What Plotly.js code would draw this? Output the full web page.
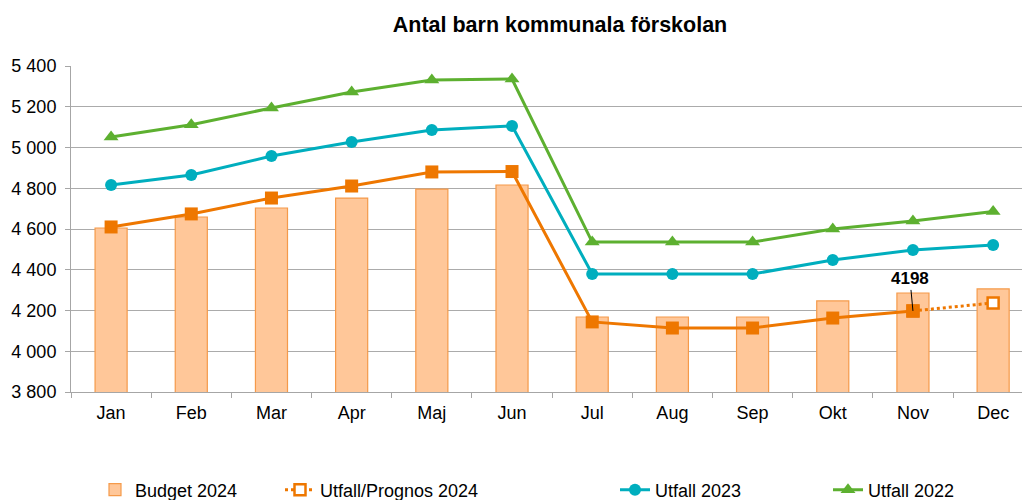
<!DOCTYPE html>
<html>
<head>
<meta charset="utf-8">
<script src="https://cdn.plot.ly/plotly-3.0.1.min.js"></script>
<style>html,body{margin:0;padding:0;background:#fff;}#chart{width:1022px;height:500px;}</style>
</head>
<body>
<div id="chart"></div>
<script>
const months = ['Jan','Feb','Mar','Apr','Maj','Jun','Jul','Aug','Sep','Okt','Nov','Dec'];
const budget2024 = [4605, 4659, 4703, 4752, 4796, 4816, 4168, 4168, 4168, 4247, 4286, 4306];
const utfall2024 = [4610, 4674, 4752, 4811, 4880, 4882, 4144, 4114, 4114, 4163, 4198];
const prognosMonths = ['Nov', 'Dec'];
const prognos2024 = [4198, 4237];
const utfall2023 = [4816, 4865, 4958, 5027, 5086, 5106, 4379, 4379, 4379, 4448, 4497, 4522];
const utfall2022 = [5052, 5112, 5194, 5272, 5331, 5336, 4536, 4536, 4536, 4600, 4639, 4686];

const orange = '#EE7700';
const teal = '#00AEBE';
const green = '#5DB030';
const font = 'Liberation Sans, Arial, sans-serif';

const traces = [
  {type: 'bar', x: months, y: budget2024, name: 'Budget 2024', width: 0.4,
   marker: {color: '#FFC799', line: {color: '#F59A4A', width: 1.2}}, legend: 'legend'},
  {type: 'scatter', mode: 'lines+markers', x: prognosMonths, y: prognos2024, name: 'Utfall/Prognos 2024',
   line: {color: orange, width: 3, dash: 'dot'},
   marker: {symbol: 'square', size: 11, color: '#FFFFFF', line: {color: orange, width: 2.5}}, legend: 'legend2'},
  {type: 'scatter', mode: 'lines+markers', x: months.slice(0, utfall2024.length), y: utfall2024, name: 'Utfall 2024',
   line: {color: orange, width: 3}, marker: {symbol: 'square', size: 13, color: orange}, showlegend: false},
  {type: 'scatter', mode: 'lines+markers', x: months, y: utfall2023, name: 'Utfall 2023',
   line: {color: teal, width: 3}, marker: {symbol: 'circle', size: 12, color: teal}, legend: 'legend3'},
  {type: 'scatter', mode: 'lines+markers', x: months, y: utfall2022, name: 'Utfall 2022',
   line: {color: green, width: 3}, marker: {symbol: 'triangle-up', size: 13, color: green}, legend: 'legend4'}
];

function leg(px) {
  return {orientation: 'h', xref: 'container', yref: 'container', x: px / 1022, y: 0.02,
          xanchor: 'left', yanchor: 'middle', bgcolor: 'rgba(0,0,0,0)',
          font: {family: font, size: 18, color: '#000'}};
}

const layout = {
  width: 1022, height: 500,
  margin: {l: 71, r: 0, t: 66, b: 108},
  paper_bgcolor: '#fff', plot_bgcolor: '#fff',
  separators: ', ',
  font: {family: font, size: 18, color: '#000'},
  title: {text: '<b>Antal barn kommunala förskolan</b>', x: 560 / 1022, xref: 'container', xanchor: 'center',
          y: 1 - 24 / 500, yref: 'container', yanchor: 'middle', font: {family: font, size: 21.5, color: '#000'}},
  xaxis: {type: 'category', categoryorder: 'array', categoryarray: months,
          range: [-0.5, 11.36], showgrid: false, showline: true, linecolor: '#A6A6A6', linewidth: 1,
          ticks: 'outside', tickson: 'boundaries', ticklen: 5, tickcolor: '#A6A6A6', ticklabelstandoff: 4,
          tickfont: {family: font, size: 18, color: '#000'}, fixedrange: true},
  yaxis: {range: [3800, 5400], dtick: 200, tick0: 3800, separatethousands: true, tickformat: ',d',
          showgrid: true, gridcolor: '#ABABAB', gridwidth: 1, showline: true, linecolor: '#A6A6A6', linewidth: 1,
          ticks: 'outside', ticklen: 5, tickcolor: '#A6A6A6', zeroline: false, ticklabelstandoff: 5,
          tickfont: {family: font, size: 18, color: '#000'}, fixedrange: true},
  bargap: 0.6,
  legend: leg(95), legend2: leg(280), legend3: leg(615), legend4: leg(828),
  annotations: [{x: 'Nov', y: 4198, xref: 'x', yref: 'y', text: '<b>4198</b>', showarrow: true,
                 arrowhead: 0, arrowwidth: 1, arrowcolor: '#000', ax: -3, ay: -32, standoff: 0,
                 font: {family: font, size: 17, color: '#000'}}],
  hovermode: false
};

Plotly.newPlot('chart', traces, layout, {displayModeBar: false, staticPlot: true});
</script>
</body>
</html>
